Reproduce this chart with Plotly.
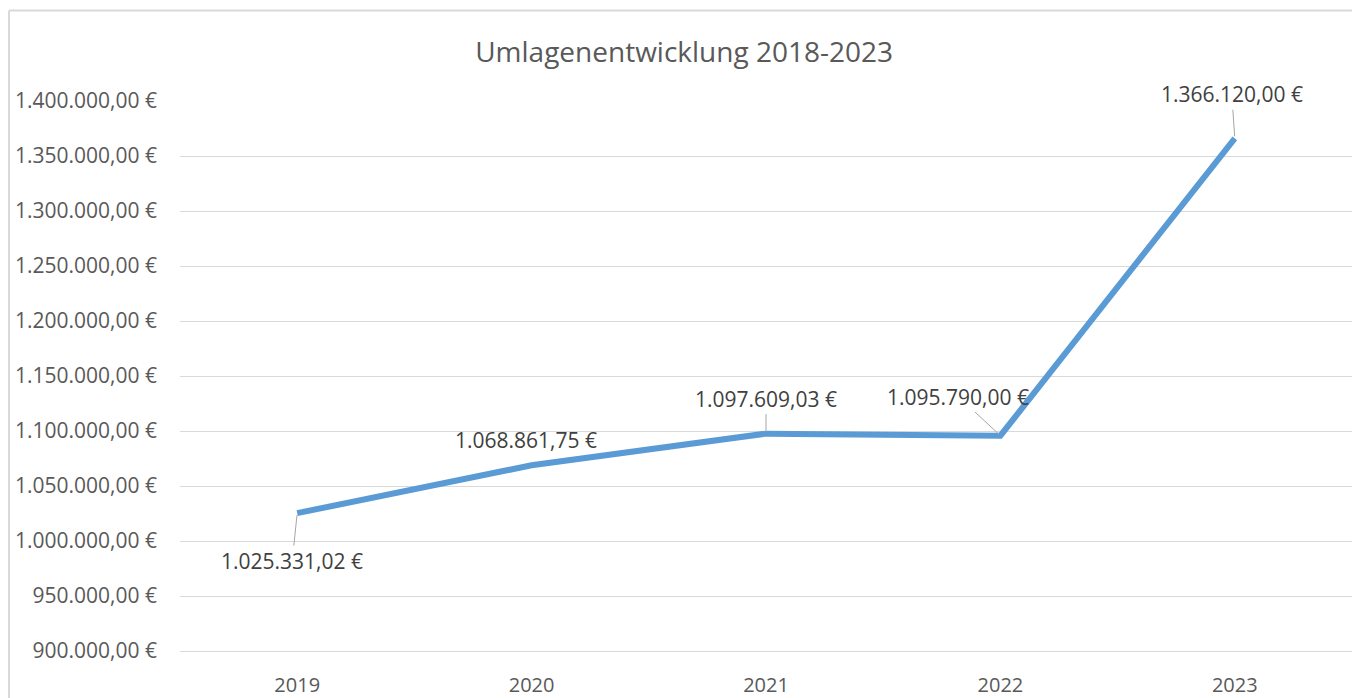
import plotly.graph_objects as go

years = ["2019", "2020", "2021", "2022", "2023"]
values = [1025331.02, 1068861.75, 1097609.03, 1095790.00, 1366120.00]
labels = ["1.025.331,02 €", "1.068.861,75 €", "1.097.609,03 €", "1.095.790,00 €", "1.366.120,00 €"]
tick_vals = [900000, 950000, 1000000, 1050000, 1100000, 1150000, 1200000, 1250000, 1300000, 1350000, 1400000]
tick_text = ["900.000,00 €", "950.000,00 €", "1.000.000,00 €", "1.050.000,00 €", "1.100.000,00 €",
             "1.150.000,00 €", "1.200.000,00 €", "1.250.000,00 €", "1.300.000,00 €", "1.350.000,00 €",
             "1.400.000,00 €"]
title = "Umlagenentwicklung 2018-2023"

FONT = "Open Sans"
TXT = "#595959"
GRID = "#D9D9D9"

fig = go.Figure()
fig.add_trace(go.Scatter(x=years, y=values, mode="lines",
                         line=dict(color="#5B9BD5", width=6), hoverinfo="skip"))

# label offsets (pixels): (ax, ay, leader line)
offs = [(-5, 48, True), (-6, -25, False), (0, -35, True), (-42, -39, True), (-3, -44, True)]
for i, (v, lab, (ax, ay, arr)) in enumerate(zip(values, labels, offs)):
    if arr:
        fig.add_annotation(x=i, y=v, text=lab, showarrow=True, ax=ax, ay=ay,
                           arrowhead=0, arrowwidth=1, arrowcolor="#A6A6A6", standoff=2,
                           font=dict(family=FONT, size=21, color="#404040"))
    else:
        fig.add_annotation(x=i, y=v, text=lab, showarrow=False, xshift=ax, yshift=-ay,
                           font=dict(family=FONT, size=21, color="#404040"))

# chart frame
fig.add_shape(type="line", xref="paper", yref="paper", x0=(9 - 180) / 1172, x1=1.05,
              y0=(654 - 10) / 553, y1=(654 - 10) / 553, line=dict(color=GRID, width=2))
fig.add_shape(type="line", xref="paper", yref="paper", x0=(9 - 180) / 1172, x1=(9 - 180) / 1172,
              y0=(654 - 10) / 553, y1=-0.2, line=dict(color=GRID, width=2))

fig.update_layout(
    width=1352, height=698,
    margin=dict(l=180, r=0, t=101, b=44),
    paper_bgcolor="white", plot_bgcolor="white",
    showlegend=False,
    title=dict(text=title, x=0.506, xanchor="center", y=1 - 52 / 698, yanchor="middle",
               font=dict(family=FONT, size=28, color=TXT)),
    font=dict(family=FONT, color=TXT),
)
fig.update_xaxes(type="category", showgrid=False, showline=True, linecolor=GRID, linewidth=1,
                 ticks="", tickfont=dict(family=FONT, size=20, color=TXT),
                 ticklabelstandoff=16, zeroline=False, range=[-0.5, 4.5])
fig.update_yaxes(range=[900000, 1400000], tickvals=tick_vals, ticktext=tick_text,
                 showgrid=True, gridcolor=GRID, gridwidth=1, zeroline=False, showline=False,
                 ticks="", tickfont=dict(family=FONT, size=21, color=TXT), ticklabelstandoff=22)

fig.write_html("out.html", config={"displayModeBar": False},
               post_script="document.body.style.margin='0';document.body.style.overflow='hidden';"
                           "document.documentElement.style.overflow='hidden';")
